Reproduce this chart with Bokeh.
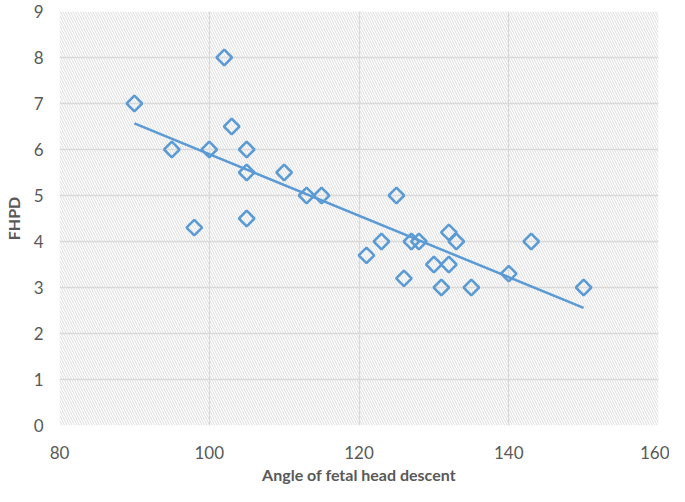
import numpy as np
from bokeh.plotting import figure
from bokeh.models import BoxAnnotation, FixedTicker
from bokeh.embed import file_html
from bokeh.resources import INLINE

angle = [90, 95, 98, 100, 102, 103, 105, 105, 105, 110, 113, 115, 121, 123, 125,
         126, 127, 128, 130, 131, 132, 132, 133, 135, 140, 143, 150]
fhpd = [7.0, 6.0, 4.3, 6.0, 8.0, 6.5, 6.0, 5.5, 4.5, 5.5, 5.0, 5.0, 3.7, 4.0, 5.0,
        3.2, 4.0, 4.0, 3.5, 3.0, 4.2, 3.5, 4.0, 3.0, 3.3, 4.0, 3.0]
x_ticks = [80, 100, 120, 140, 160]
y_ticks = [0, 1, 2, 3, 4, 5, 6, 7, 8, 9]

slope, intercept = np.polyfit(angle, fhpd, 1)
trend_x = [min(angle), max(angle)]
trend_y = [slope * v + intercept for v in trend_x]

FONT = "Lato"
GRAY = "#595959"
BLUE = "#5b9bd5"

p = figure(width=669, height=486, x_range=(80, 160), y_range=(0, 9),
           output_backend="svg", toolbar_location=None,
           min_border_left=49, min_border_right=11, min_border_top=11, min_border_bottom=60)
p.outline_line_color = None
p.background_fill_color = "white"

p.add_layout(BoxAnnotation(fill_color="white", fill_alpha=1.0, line_color=None,
                           hatch_pattern="\\", hatch_color="#dcdcdc", hatch_scale=5,
                           hatch_weight=1, level="image"))

p.xaxis.ticker = FixedTicker(ticks=x_ticks)
p.yaxis.ticker = FixedTicker(ticks=y_ticks)
for g in (p.xgrid, p.ygrid):
    g.grid_line_color = "#d9d9d9"
    g.grid_line_width = 1.3
for ax in (p.xaxis, p.yaxis):
    ax.axis_line_color = None
    ax.major_tick_line_color = None
    ax.minor_tick_line_color = None
    ax.major_label_text_font = FONT
    ax.major_label_text_font_size = "17px"
    ax.major_label_text_color = GRAY
    ax.axis_label_text_font = FONT
    ax.axis_label_text_font_size = "16px"
    ax.axis_label_text_font_style = "bold"
    ax.axis_label_text_color = GRAY
p.xaxis.axis_label = "Angle of fetal head descent"
p.yaxis.axis_label = "FHPD"
p.xaxis.major_label_standoff = 14
p.xaxis.axis_label_standoff = 3
p.yaxis.major_label_standoff = 10
p.yaxis.axis_label_standoff = 8

p.line(trend_x, trend_y, line_color=BLUE, line_width=2.5)
p.scatter(angle, fhpd, marker="square", angle=np.pi / 4, size=11,
          fill_color="white", fill_alpha=0.0, line_color=BLUE, line_width=2.5)

open("out.html", "w").write(file_html(p, INLINE))
